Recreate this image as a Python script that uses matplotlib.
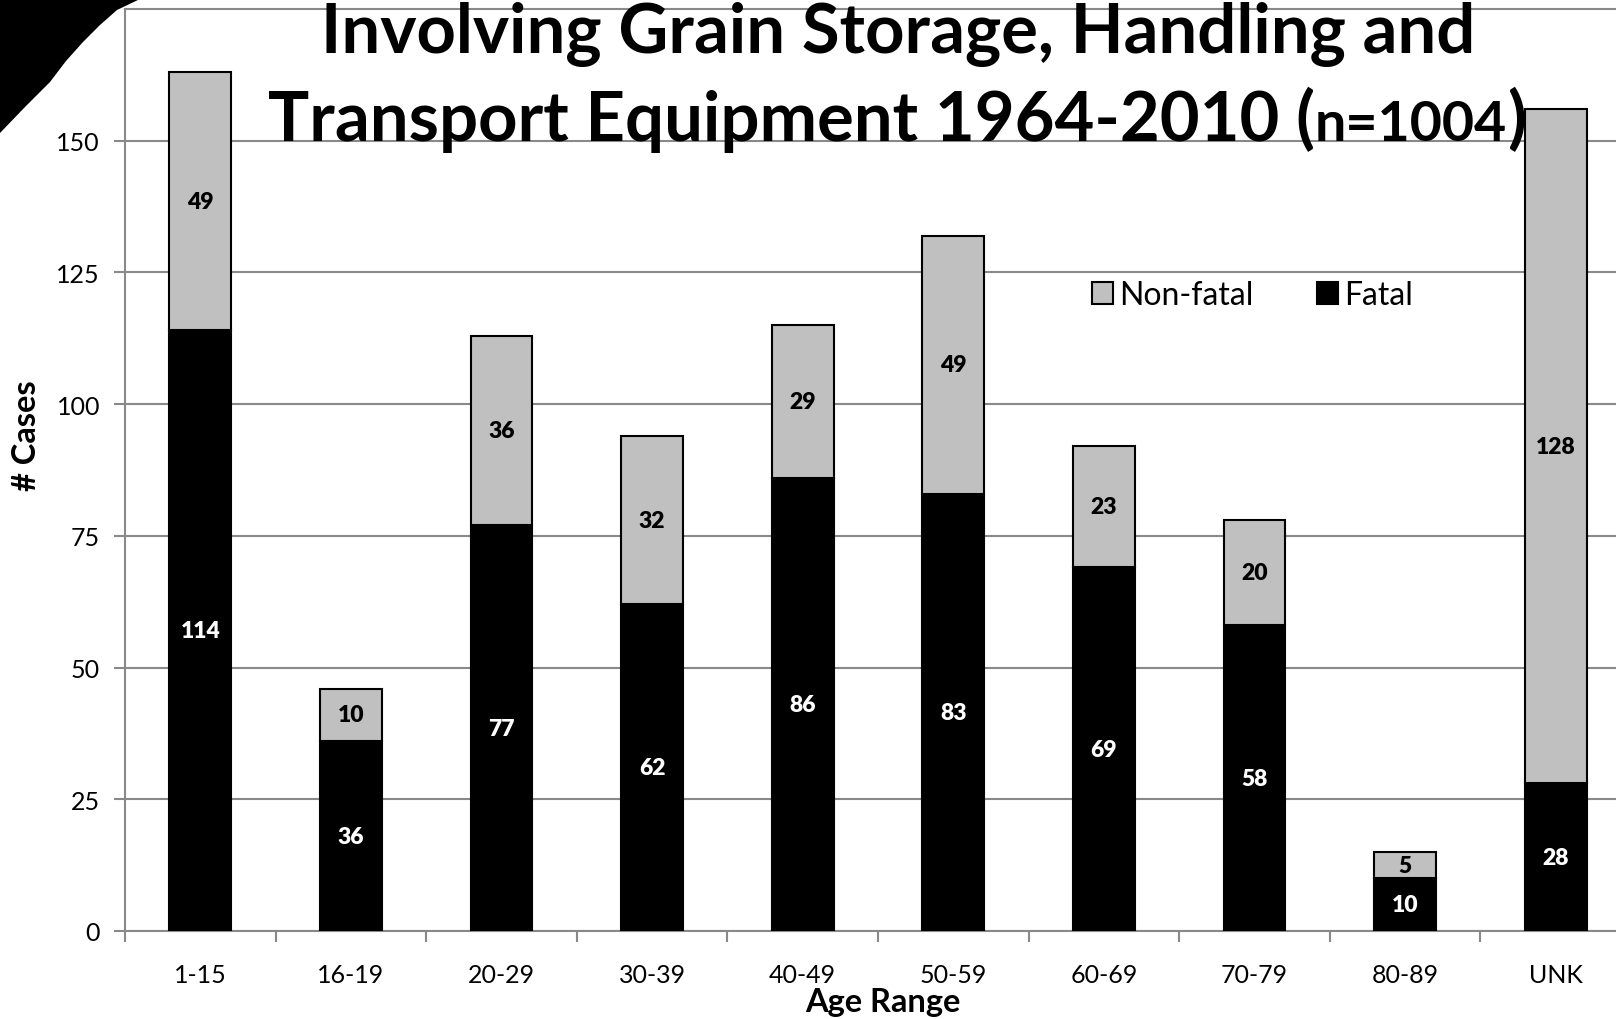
import matplotlib
matplotlib.use("Agg")
import matplotlib.pyplot as plt
from matplotlib.patches import Polygon
import numpy as np

categories = ["1-15", "16-19", "20-29", "30-39", "40-49", "50-59", "60-69", "70-79", "80-89", "UNK"]
fatal = [114, 36, 77, 62, 86, 83, 69, 58, 10, 28]
nonfatal = [49, 10, 36, 32, 29, 49, 23, 20, 5, 128]
yticks = [0, 25, 50, 75, 100, 125, 150]

FONT = "Lato"
W, H = 1616, 1020
fig = plt.figure(figsize=(W / 100, H / 100), dpi=100)
fig.patch.set_facecolor("white")

def fx(px):
    return px / W

def fy(py):
    return 1 - py / H

ax = fig.add_axes([fx(125), fy(932), fx(1631) - fx(125), fy(10) - fy(932)])
x = np.arange(len(categories))
bw = 0.41
gray = "#898989"

b1 = ax.bar(x, fatal, bw, color="black", edgecolor="black", linewidth=1.5, label="Fatal", zorder=3)
b2 = ax.bar(x, nonfatal, bw, bottom=fatal, color="#c0c0c0", edgecolor="black", linewidth=1.5,
            label="Non-fatal", zorder=3)

for i in range(len(categories)):
    ax.text(x[i], fatal[i] / 2, str(fatal[i]), ha="center", va="center", color="white",
            fontsize=16.5, fontweight="heavy", family=FONT, zorder=4)
    ax.text(x[i], fatal[i] + nonfatal[i] / 2, str(nonfatal[i]), ha="center", va="center",
            color="black", fontsize=16.5, fontweight="heavy", family=FONT, zorder=4)

ax.set_xlim(-0.5, len(categories) - 0.5)
ax.set_ylim(0, 175)
ax.set_yticks(yticks)
ax.set_yticklabels([str(v) for v in yticks], family=FONT, fontsize=18)
ax.yaxis.grid(True, color=gray, linewidth=1.5, zorder=0)
ax.set_axisbelow(True)
ax.set_xticks(np.arange(-0.5, len(categories), 1.0))
ax.set_xticklabels([])
ax.set_xticks(x, minor=True)
ax.set_xticklabels(categories, minor=True, family=FONT, fontsize=18)
ax.tick_params(axis="x", which="major", direction="out", length=8, width=1.5, color=gray)
ax.tick_params(axis="x", which="minor", length=0, pad=23)
ax.tick_params(axis="y", direction="out", length=8, width=1.5, color=gray, pad=10)
for s in ["left", "bottom", "top"]:
    ax.spines[s].set_color(gray)
    ax.spines[s].set_linewidth(1.5)
ax.spines["right"].set_visible(False)

leg = ax.legend(handles=[b2, b1], labels=["Non-fatal", "Fatal"], ncol=2, frameon=False,
                loc="center left", bbox_to_anchor=(fx(1092), fy(296)), bbox_transform=fig.transFigure,
                prop={"family": FONT, "size": 23}, handlelength=0.66, handleheight=0.66,
                handletextpad=0.18, columnspacing=2.0, borderpad=0, borderaxespad=0)

fig.text(fx(27), fy(436), "# Cases", rotation=90, ha="center", va="center", family=FONT,
         fontsize=23.5, fontweight="bold")
fig.text(fx(883), fy(1003), "Age Range", ha="center", va="center", family=FONT,
         fontsize=23.5, fontweight="bold")

# Title (two lines, second line with smaller "n=1004")
big = 49.5
small = 40
fig.text(fx(898), fy(53), "Involving Grain Storage, Handling and", ha="center", va="baseline",
         family=FONT, fontsize=big, fontweight="bold", zorder=5)
parts = [("Transport Equipment 1964-2010 (", big), ("n=1004", small), (")", big)]
r = fig.canvas.get_renderer()
texts = []
for s, sz in parts:
    t = fig.text(0, fy(141), s, ha="left", va="baseline", family=FONT, fontsize=sz,
                 fontweight="bold", zorder=5)
    texts.append(t)
widths = [t.get_window_extent(renderer=r).width for t in texts]
total = sum(widths)
start = 897 - total / 2
for t, w in zip(texts, widths):
    t.set_x(fx(start))
    start += w

# decorative dark corner
pts = [(0, 0), (140, 0), (117, 11), (100, 26), (83, 43), (66, 62), (50, 83), (25, 108), (0, 134)]
poly = Polygon([(fx(a), fy(b)) for a, b in pts], closed=True, transform=fig.transFigure,
               facecolor="black", edgecolor="none", zorder=10)
fig.patches.append(poly)

fig.savefig("out.png", dpi=100)
